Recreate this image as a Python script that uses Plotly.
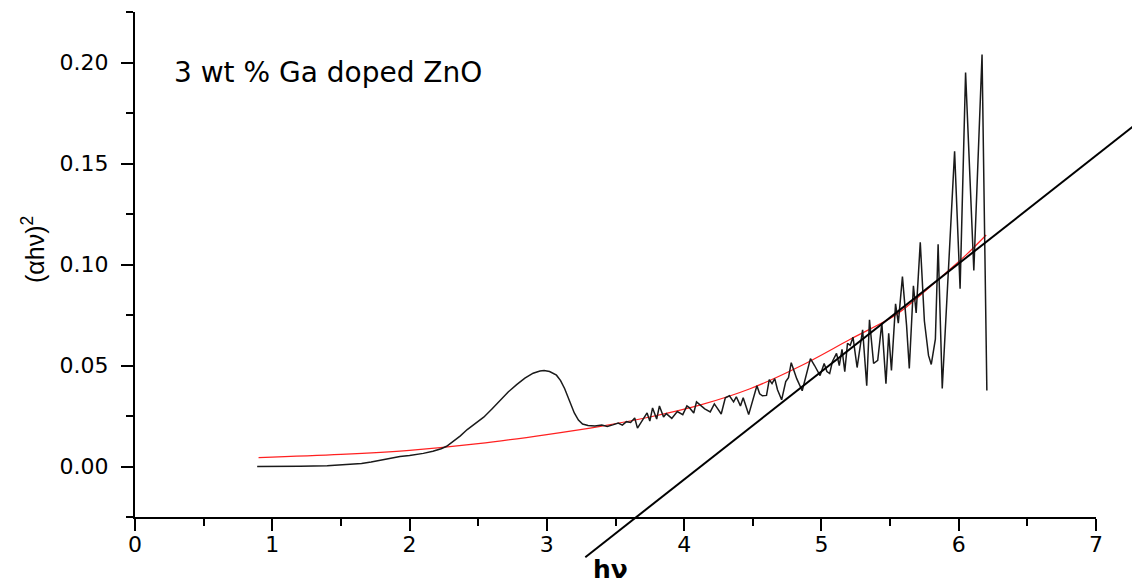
import plotly.graph_objects as go

W, H = 1132, 583

# ---------------- data ----------------
energy = [0.89, 1.0, 1.2, 1.4, 1.55, 1.65, 1.72, 1.78, 1.81, 1.86, 1.93, 2.00, 2.10, 2.17, 2.23, 2.27,
          2.32, 2.37, 2.42, 2.48, 2.54, 2.60, 2.66, 2.72, 2.78, 2.84, 2.90, 2.95, 2.98, 3.02, 3.07,
          3.10, 3.13, 3.17, 3.20, 3.23, 3.26, 3.30, 3.35, 3.40, 3.44, 3.48, 3.52, 3.55, 3.58, 3.61,
          3.64, 3.66, 3.70, 3.73, 3.75, 3.77, 3.80, 3.82, 3.85, 3.87, 3.91, 3.95, 3.99, 4.02, 4.04,
          4.07, 4.09, 4.12, 4.15, 4.19, 4.22, 4.24, 4.27, 4.30, 4.33, 4.36, 4.38, 4.41, 4.43, 4.47,
          4.50, 4.53, 4.55, 4.57, 4.60, 4.62, 4.64, 4.66, 4.68, 4.71, 4.74, 4.76, 4.78, 4.80, 4.82,
          4.86, 4.88, 4.90, 4.92, 4.95, 4.99, 5.02, 5.04, 5.06, 5.08, 5.11, 5.13, 5.15, 5.17, 5.19,
          5.21, 5.23, 5.26, 5.30, 5.33, 5.35, 5.38, 5.41, 5.44, 5.47, 5.49, 5.51, 5.54, 5.56, 5.59,
          5.62, 5.64, 5.67, 5.69, 5.72, 5.75, 5.78, 5.80, 5.83, 5.85, 5.88, 5.92, 5.97, 6.01, 6.05,
          6.11, 6.17, 6.205]
ahv2 = [0.0000, 0.0000, 0.0001, 0.0004, 0.0010, 0.0015, 0.0022, 0.0030, 0.0036, 0.0040, 0.0050,
        0.0055, 0.0065, 0.0076, 0.0088, 0.0100, 0.0125, 0.0152, 0.0183, 0.0213, 0.0244, 0.0285,
        0.0330, 0.0370, 0.0405, 0.0437, 0.0462, 0.0473, 0.0475, 0.0470, 0.0452, 0.0425, 0.0385,
        0.0320, 0.0265, 0.0230, 0.0210, 0.0203, 0.0200, 0.0205, 0.0198, 0.0206, 0.0215, 0.0205,
        0.0222, 0.0218, 0.0240, 0.0190, 0.0232, 0.0265, 0.0225, 0.0290, 0.0235, 0.0300, 0.0245,
        0.0262, 0.0238, 0.0272, 0.0257, 0.0300, 0.0290, 0.0265, 0.0320, 0.0300, 0.0285, 0.0270,
        0.0310, 0.0290, 0.0260, 0.0340, 0.0350, 0.0320, 0.0345, 0.0300, 0.0340, 0.0257, 0.0330,
        0.0400, 0.0360, 0.0350, 0.0352, 0.0430, 0.0410, 0.0435, 0.0380, 0.0330, 0.0420, 0.0440,
        0.0514, 0.0470, 0.0435, 0.0375, 0.0425, 0.0480, 0.0534, 0.0500, 0.0450, 0.0510, 0.0470,
        0.0460, 0.0520, 0.0560, 0.0500, 0.0580, 0.0470, 0.0610, 0.0600, 0.0640, 0.0490, 0.0677,
        0.0400, 0.0726, 0.0510, 0.0525, 0.0710, 0.0410, 0.0660, 0.0475, 0.0805, 0.0710, 0.0940,
        0.0700, 0.0485, 0.0895, 0.0760, 0.1110, 0.0720, 0.0550, 0.0505, 0.0630, 0.1100, 0.0386,
        0.0886, 0.1560, 0.0880, 0.1950, 0.0970, 0.2040, 0.0376]

fit_x = [0.9, 1.5, 2.0, 2.5, 3.0, 3.4, 3.75, 4.12, 4.48, 4.84, 5.21, 5.54, 5.69, 5.9, 6.05, 6.2]
fit_y = [0.0044, 0.0060, 0.0080, 0.0113, 0.0158, 0.0200, 0.0245, 0.0305, 0.0385, 0.0495, 0.0630,
         0.0750, 0.0830, 0.0955, 0.1045, 0.1146]

tangent_x = [3.28, 7.40]
tangent_y = [-0.0449, 0.1753]

x_ticks = [0, 1, 2, 3, 4, 5, 6, 7]
y_ticks = [0.00, 0.05, 0.10, 0.15, 0.20]
x_range = [0, 7]
y_range = [-0.025, 0.225]

label_text = "3 wt % Ga doped ZnO"
x_title = "hν"
y_title = "(αhν)<sup>2</sup>"

# ---------------- layout geometry ----------------
x_dom = [135 / W, 1096 / W]
y_dom = [(H - 517) / H, (H - 12) / H]


def extend(rng, dom):
    span = (rng[1] - rng[0]) / (dom[1] - dom[0])
    return [rng[0] - dom[0] * span, rng[1] + (1 - dom[1]) * span]


x2_range = extend(x_range, x_dom)
y2_range = extend(y_range, y_dom)

tick_font = dict(family="DejaVu Sans", size=22, color="black")

fig = go.Figure()
fig.add_trace(go.Scatter(x=fit_x, y=fit_y, mode="lines", line=dict(color="#ff2020", width=1.2, shape="spline"),
                         xaxis="x", yaxis="y", showlegend=False, hoverinfo="skip"))
fig.add_trace(go.Scatter(x=energy, y=ahv2, mode="lines", line=dict(color="#1a1a1a", width=1.5),
                         xaxis="x", yaxis="y", showlegend=False))
fig.add_trace(go.Scatter(x=tangent_x, y=tangent_y, mode="lines", line=dict(color="black", width=2),
                         xaxis="x2", yaxis="y2", showlegend=False, hoverinfo="skip"))

axis_common = dict(showline=True, linecolor="black", linewidth=2, ticks="outside", tickwidth=2,
                   tickcolor="black", ticklen=12, showgrid=False, zeroline=False, tickfont=tick_font,
                   automargin=False, ticklabelposition="outside")

fig.update_layout(
    width=W, height=H, autosize=False,
    margin=dict(l=0, r=0, t=0, b=0, pad=0),
    paper_bgcolor="white", plot_bgcolor="rgba(0,0,0,0)",
    xaxis=dict(domain=x_dom, range=x_range, anchor="y", tickvals=x_ticks, ticklabelstandoff=-5,
               minor=dict(ticks="outside", ticklen=7, tickwidth=2, tickcolor="black", dtick=0.5, tick0=0),
               **axis_common),
    yaxis=dict(domain=y_dom, range=y_range, anchor="x", tickvals=y_ticks, tickformat=".2f",
               ticklabelstandoff=8,
               minor=dict(ticks="outside", ticklen=7, tickwidth=2, tickcolor="black", dtick=0.025, tick0=0),
               **axis_common),
    xaxis2=dict(domain=[0, 1], range=x2_range, anchor="y2", visible=False, fixedrange=True),
    yaxis2=dict(domain=[0, 1], range=y2_range, anchor="x2", visible=False, fixedrange=True),
    annotations=[
        dict(text=label_text, xref="paper", yref="paper", x=172 / W, y=(H - 72) / H,
             xanchor="left", yanchor="middle", showarrow=False,
             font=dict(family="DejaVu Sans", size=28, color="black")),
        dict(text=y_title, xref="paper", yref="paper", x=33 / W, y=(H - 250) / H,
             xanchor="center", yanchor="middle", textangle=-90, showarrow=False,
             font=dict(family="Liberation Sans", size=25, color="black")),
        dict(text=x_title, xref="paper", yref="paper", x=611 / W, y=(H - 553) / H,
             xanchor="center", yanchor="top", showarrow=False,
             font=dict(family="DejaVu Sans", size=25, color="black", weight="bold")),
    ],
)

fig.write_html("out.html", config={"responsive": False, "displayModeBar": False},
               post_script="document.body.style.margin='0';document.body.style.overflow='hidden';")
